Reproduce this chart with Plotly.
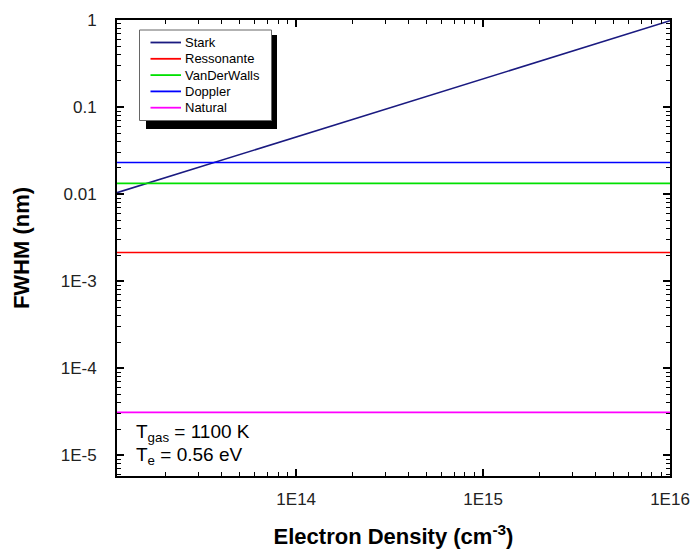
import plotly.graph_objects as go
import numpy as np

# ---- data ----
x_range_pts = [1.1e13, 1.0e16]           # electron density end points (cm^-3)
stark = [0.0104, 0.98]                   # Stark FWHM (nm) at those points
ressonante = [0.00214, 0.00214]
vanderwalls = [0.0133, 0.0133]
doppler = [0.0231, 0.0231]
natural = [3.12e-5, 3.12e-5]

series_names = ["Stark", "Ressonante", "VanDerWalls", "Doppler", "Natural"]
series_colors = ["#1a1a80", "#ff0000", "#00e000", "#0000ff", "#ff00ff"]
series_values = [stark, ressonante, vanderwalls, doppler, natural]

x_tickvals = [1e14, 1e15, 1e16]
x_ticktext = ["1E14", "1E15", "1E16"]
y_tickvals = [1, 0.1, 0.01, 1e-3, 1e-4, 1e-5]
y_ticktext = ["1", "0.1", "0.01", "1E-3", "1E-4", "1E-5"]

FONT = "Liberation Sans, Arial, sans-serif"
W, H = 696, 550
ML, MT = 117, 20
PW, PH = 553, 456
MR = W - ML - PW
MB = H - MT - PH


def px(xp):
    """screen pixel x -> paper coordinate"""
    return (xp - ML) / PW


def py(yp):
    """screen pixel y -> paper coordinate"""
    return 1 - (yp - MT) / PH


fig = go.Figure()
for name, col, vals in zip(series_names, series_colors, series_values):
    fig.add_trace(go.Scatter(x=x_range_pts, y=vals, mode="lines", name=name,
                             line=dict(color=col, width=1.6), showlegend=False))

axis_common = dict(
    type="log", showline=True, linecolor="black", linewidth=2, mirror="ticks",
    ticks="inside", ticklen=7, tickwidth=1.5, tickcolor="black",
    showgrid=False, zeroline=False, automargin=False,
    tickfont=dict(family=FONT, size=17, color="#222"),
    minor=dict(ticks="inside", ticklen=4, tickwidth=1, tickcolor="black",
               dtick="D1", showgrid=False),
)

fig.update_xaxes(**axis_common, range=[np.log10(1.1e13), np.log10(1.0e16)],
                 tickmode="array", tickvals=x_tickvals, ticktext=x_ticktext,
                 ticklabelstandoff=7,
                 title=dict(text="<b>Electron Density (cm<sup>-3</sup>)</b>",
                            font=dict(family=FONT, size=22, color="black"),
                            standoff=20))
fig.update_yaxes(**axis_common, range=[np.log10(5.8e-6), np.log10(1.0)],
                 tickmode="array", tickvals=y_tickvals, ticktext=y_ticktext,
                 ticklabelstandoff=15,
                 title=dict(text="<b>FWHM (nm)</b>",
                            font=dict(family=FONT, size=22, color="black"),
                            standoff=25))

# manual legend: shadow, box, entries
fig.add_shape(type="rect", xref="paper", yref="paper",
              x0=px(146), x1=px(277), y0=py(129), y1=py(35),
              fillcolor="black", line=dict(width=0), layer="above")
fig.add_shape(type="rect", xref="paper", yref="paper",
              x0=px(139.5), x1=px(271.5), y0=py(120.5), y1=py(30),
              fillcolor="white", line=dict(color="#666", width=1), layer="above")
entry_y = [42.5, 58.8, 75.1, 91.4, 107.7]
for name, col, ey in zip(series_names, series_colors, entry_y):
    fig.add_shape(type="line", xref="paper", yref="paper",
                  x0=px(150.5), x1=px(181), y0=py(ey), y1=py(ey),
                  line=dict(color=col, width=1.8), layer="above")
    fig.add_annotation(xref="paper", yref="paper", x=px(183), y=py(ey),
                       xanchor="left", yanchor="middle", showarrow=False,
                       text=name, font=dict(family=FONT, size=13, color="black"))

fig.add_annotation(xref="paper", yref="paper", x=px(134), y=py(433),
                   xanchor="left", yanchor="middle", showarrow=False,
                   text="T<sub>gas</sub> = 1100 K",
                   font=dict(family=FONT, size=19, color="black"))
fig.add_annotation(xref="paper", yref="paper", x=px(134), y=py(456),
                   xanchor="left", yanchor="middle", showarrow=False,
                   text="T<sub>e</sub> = 0.56 eV",
                   font=dict(family=FONT, size=19, color="black"))

fig.update_layout(
    width=W, height=H,
    margin=dict(l=ML, r=MR, t=MT, b=MB),
    paper_bgcolor="white", plot_bgcolor="white",
    font=dict(family=FONT),
    showlegend=False,
)

fig.write_html("out.html",
               config={"displayModeBar": False},
               post_script="document.body.style.margin='0';"
                           "document.body.style.overflow='hidden';")
